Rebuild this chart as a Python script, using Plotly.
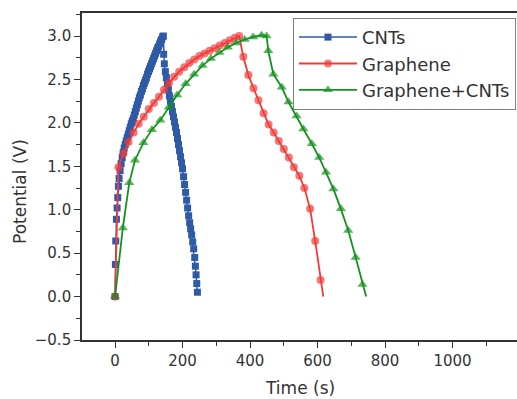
import plotly.graph_objects as go

# ---------------- data ----------------
cnt_time = [0, 1, 2, 4, 6, 8, 10, 12, 15, 18, 21, 24, 27, 30, 33, 36, 39, 42, 45, 48,
            51, 54, 57, 60, 63, 66, 69, 72, 75, 78, 81, 84, 87, 90, 93, 96, 99, 102,
            105, 108, 111, 114, 117, 120, 123, 126, 129, 132, 135, 138, 141, 143,
            144, 146, 149, 152, 155, 158, 161, 164, 167, 170, 173, 176, 179, 182, 185,
            188, 191, 194, 197, 200, 203, 206, 209, 212, 215, 218, 221, 224, 227, 230,
            233, 236, 238, 240, 242, 244]
cnt_potential = [0.0, 0.37, 0.64, 0.89, 1.02, 1.14, 1.27, 1.36, 1.45, 1.53, 1.60, 1.66, 1.71,
                 1.75, 1.79, 1.83, 1.87, 1.91, 1.95, 1.99, 2.02, 2.05, 2.09, 2.13, 2.17,
                 2.21, 2.25, 2.29, 2.32, 2.36, 2.39, 2.43, 2.46, 2.49, 2.52, 2.56, 2.59,
                 2.62, 2.65, 2.68, 2.71, 2.74, 2.77, 2.80, 2.83, 2.86, 2.88, 2.91, 2.94,
                 2.96, 2.99, 3.00,
                 2.79, 2.68, 2.59, 2.52, 2.45, 2.38, 2.31, 2.25, 2.19, 2.13, 2.07, 2.01,
                 1.95, 1.89, 1.82, 1.75, 1.68, 1.61, 1.54, 1.47, 1.38, 1.29, 1.20, 1.11,
                 1.02, 0.93, 0.85, 0.78, 0.71, 0.63, 0.55, 0.45, 0.35, 0.25, 0.15, 0.05]

graphene_time = [0, 10, 25, 40, 55, 70, 85, 100, 115, 130, 145, 160, 175, 190, 205, 220,
                 235, 250, 265, 280, 295, 310, 325, 340, 355, 368,
                 380, 395, 410, 425, 440, 455, 470, 485, 500, 515, 530, 546, 561, 578,
                 593, 609, 617]
graphene_potential = [0.0, 1.49, 1.65, 1.78, 1.89, 1.99, 2.07, 2.16, 2.23, 2.30, 2.38, 2.46,
                      2.53, 2.59, 2.64, 2.69, 2.73, 2.77, 2.80, 2.83, 2.86, 2.89, 2.92,
                      2.95, 2.98, 3.00,
                      2.76, 2.55, 2.40, 2.26, 2.11, 1.98, 1.89, 1.79, 1.70, 1.60, 1.49,
                      1.39, 1.25, 1.01, 0.64, 0.19, 0.0]

hybrid_time = [0, 23, 42, 59, 84, 109, 134, 159, 184, 209, 234, 259, 284, 309, 334, 359,
               384, 409, 434, 449,
               454, 469, 494, 514, 538, 558, 583, 605, 625, 647, 669, 691, 713, 733, 744]
hybrid_potential = [0.0, 0.79, 1.31, 1.57, 1.77, 1.92, 2.03, 2.18, 2.32, 2.45, 2.56, 2.66,
                    2.74, 2.81, 2.87, 2.92, 2.96, 2.99, 3.01, 3.00,
                    2.83, 2.56, 2.41, 2.24, 2.08, 1.93, 1.76, 1.60, 1.43, 1.24, 1.01,
                    0.76, 0.45, 0.14, 0.0]

series_names = ["CNTs", "Graphene", "Graphene+CNTs"]

# ---------------- figure ----------------
W, H = 517, 399
L, R, T, B = 82, 0, 13, 59
FONT = "DejaVu Sans"
BLUE, RED, GREEN = "#2F5AA6", "#F23A3A", "#14931C"
AXC = "#333333"

fig = go.Figure()

fig.add_trace(go.Scatter(
    x=cnt_time, y=cnt_potential, name=series_names[0], mode="lines+markers",
    line=dict(color=BLUE, width=1.5),
    marker=dict(symbol="square", size=7, color=BLUE, line=dict(width=0))))

g_sizes = [8] * (len(graphene_time) - 1) + [0]
fig.add_trace(go.Scatter(
    x=graphene_time, y=graphene_potential, name=series_names[1], mode="lines+markers",
    line=dict(color=RED, width=1.8),
    marker=dict(symbol="circle", size=g_sizes, color=RED, line=dict(width=0))))

h_sizes = [9] * (len(hybrid_time) - 1) + [0]
fig.add_trace(go.Scatter(
    x=hybrid_time, y=hybrid_potential, name=series_names[2], mode="lines+markers",
    line=dict(color=GREEN, width=1.8),
    marker=dict(symbol="triangle-up", size=h_sizes, color=GREEN, line=dict(width=0))))

fig.update_layout(
    width=W, height=H,
    margin=dict(l=L, r=R, t=T, b=B, pad=0, autoexpand=False),
    paper_bgcolor="white", plot_bgcolor="white",
    font=dict(family=FONT, size=15, color="#333333"),
    showlegend=True,
    legend=dict(x=0.485, y=0.985, xanchor="left", yanchor="top",
                bgcolor="white", bordercolor="#808080", borderwidth=1,
                font=dict(family=FONT, size=18, color="#333333"),
                itemwidth=58, tracegroupgap=0),
    xaxis=dict(range=[-98, 1191], tickmode="linear", tick0=0, dtick=200,
               showgrid=False, zeroline=False, automargin=False,
               showline=True, linecolor=AXC, linewidth=1.6, mirror=True,
               ticks="outside", ticklen=6, tickwidth=1.3, tickcolor=AXC,
               minor=dict(dtick=100, tick0=0, ticks="outside", ticklen=4,
                          tickwidth=1.2, tickcolor=AXC, showgrid=False),
               tickfont=dict(family=FONT, size=15, color="#333333")),
    yaxis=dict(range=[-0.5, 3.265], tickmode="linear", tick0=0, dtick=0.5,
               tickformat=".1f", automargin=False,
               showgrid=False, zeroline=False,
               showline=True, linecolor=AXC, linewidth=1.6, mirror=False,
               ticks="outside", ticklen=6, tickwidth=1.3, tickcolor=AXC,
               minor=dict(dtick=0.25, tick0=0, ticks="outside", ticklen=4,
                          tickwidth=1.2, tickcolor=AXC, showgrid=False),
               tickfont=dict(family=FONT, size=15, color="#333333")),
)

# axis titles as annotations (paper coords from pixel positions)
pw, ph = W - L - R, H - T - B
def px_x(x):
    return (x - L) / pw
def px_y(y):
    return (H - B - y) / ph

fig.add_annotation(text="Time (s)", x=px_x(300), y=px_y(388), xref="paper", yref="paper",
                   showarrow=False, font=dict(family=FONT, size=17, color="#333333"),
                   xanchor="center", yanchor="middle")
fig.add_annotation(text="Potential (V)", x=px_x(20), y=px_y(192), xref="paper", yref="paper",
                   showarrow=False, textangle=-90,
                   font=dict(family=FONT, size=17, color="#333333"),
                   xanchor="center", yanchor="middle")

fig.write_html("out.html", config={"displayModeBar": False},
               post_script="document.body.style.margin='0';document.body.style.overflow='hidden';")
